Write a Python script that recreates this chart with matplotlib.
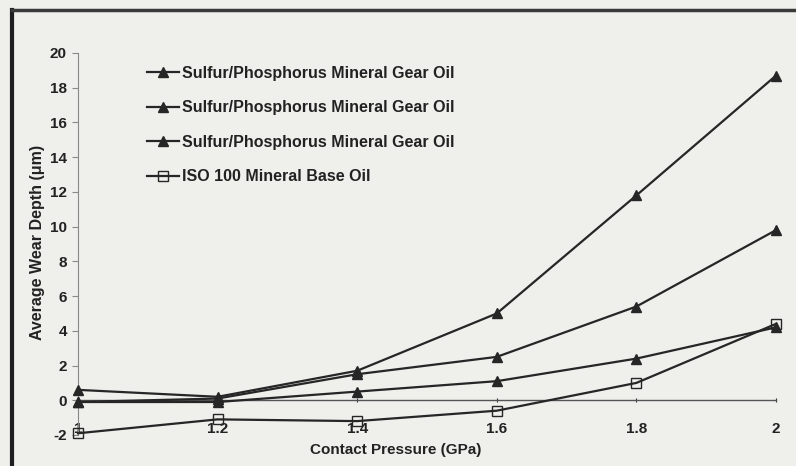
import matplotlib
matplotlib.use("Agg")
import matplotlib.pyplot as plt
from matplotlib.lines import Line2D

pressure = [1.0, 1.2, 1.4, 1.6, 1.8, 2.0]
sp_oil_a = [0.6, 0.2, 1.7, 5.0, 11.8, 18.7]
sp_oil_b = [-0.1, 0.1, 1.5, 2.5, 5.4, 9.8]
sp_oil_c = [-0.1, -0.1, 0.5, 1.1, 2.4, 4.2]
iso_base = [-1.9, -1.1, -1.2, -0.6, 1.0, 4.4]
labels = ["Sulfur/Phosphorus Mineral Gear Oil",
          "Sulfur/Phosphorus Mineral Gear Oil",
          "Sulfur/Phosphorus Mineral Gear Oil",
          "ISO 100 Mineral Base Oil"]
xticks = [1, 1.2, 1.4, 1.6, 1.8, 2]
xticklabels = ["1", "1.2", "1.4", "1.6", "1.8", "2"]
yticks = list(range(-2, 21, 2))

plt.rcParams['font.family'] = ['Liberation Sans', 'DejaVu Sans']
plt.rcParams['font.weight'] = 'bold'
plt.rcParams['axes.unicode_minus'] = False

bg = '#efefec'
ink = '#262626'
fig = plt.figure(figsize=(7.96, 4.66), dpi=100, facecolor=bg)
ax = fig.add_axes([78/796, 1-435/466, 698/796, 382/466])
ax.set_facecolor(bg)

for ys, lab in zip([sp_oil_a, sp_oil_b, sp_oil_c], labels[:3]):
    ax.plot(pressure, ys, color=ink, lw=1.6, marker='^', ms=7,
            mfc=ink, mec=ink, label=lab, clip_on=False, zorder=3)
ax.plot(pressure, iso_base, color=ink, lw=1.6, marker='s', ms=7,
        mfc='none', mec=ink, mew=1.0, label=labels[3], clip_on=False, zorder=3)

ax.set_xlim(1, 2)
ax.set_ylim(-2, 20)
ax.spines['top'].set_visible(False)
ax.spines['right'].set_visible(False)
ax.spines['bottom'].set_position(('data', 0))
ax.spines['bottom'].set_color('#555555')
ax.spines['bottom'].set_linewidth(1.0)
ax.spines['left'].set_color('#888888')
ax.spines['left'].set_linewidth(0.8)

ax.set_xticks(xticks)
ax.set_xticklabels(xticklabels)
ax.set_yticks(yticks)
ax.tick_params(axis='x', length=3, direction='inout', pad=14, labelsize=11,
               colors='#333333', labelcolor='#222222')
ax.tick_params(axis='y', length=4, direction='out', pad=4, labelsize=11,
               color='#888888', labelcolor='#222222')
for t in ax.get_xticklabels() + ax.get_yticklabels():
    t.set_fontweight('bold')

ax.set_xlabel("Contact Pressure (GPa)", fontsize=11, fontweight='bold', color='#222222')
ax.xaxis.set_label_coords(0.455, -0.02)
ax.set_ylabel("Average Wear Depth (μm)", fontsize=11.5, fontweight='bold', color='#222222')
ax.yaxis.set_label_coords(-0.047, 0.505)

leg = ax.legend(loc='upper left', bbox_to_anchor=(0.09, 0.983), frameon=False,
                handlelength=2.0, handletextpad=0.2, labelspacing=1.22,
                prop={'weight': 'bold', 'size': 11.5}, borderaxespad=0)
for t in leg.get_texts():
    t.set_color('#222222')

# scanned page frame (left and top edges)
fig.add_artist(Line2D([12/796, 12/796], [0, 1-10/466], transform=fig.transFigure,
                      color='#1e1e1e', lw=3))
fig.add_artist(Line2D([12/796, 1], [1-10/466, 1-10/466], transform=fig.transFigure,
                      color='#3a3a3a', lw=2.5))

fig.savefig("out.png", dpi=100, facecolor=bg)
